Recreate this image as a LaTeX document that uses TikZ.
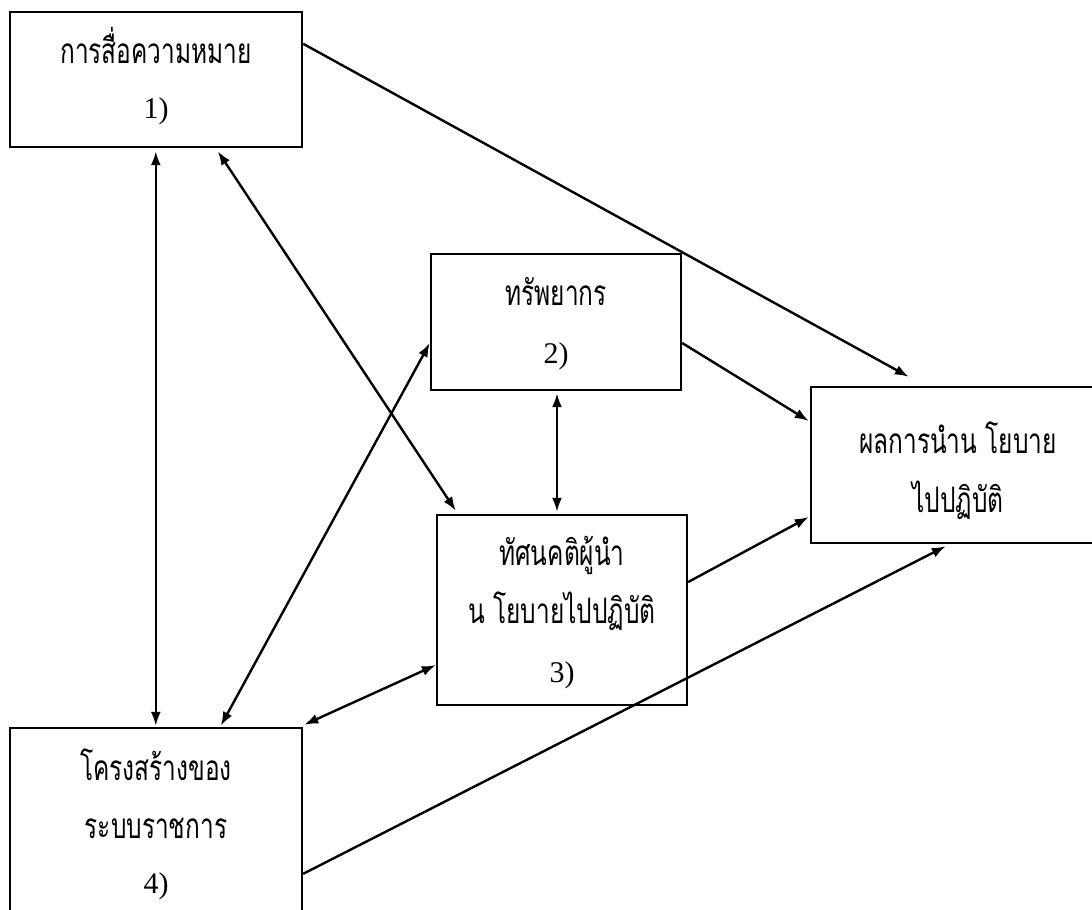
\documentclass[tikz,border=0pt]{standalone}
\usepackage{fontspec}
\setmainfont{Liberation Serif}
\newfontfamily\thai[Script=Thai]{Loma}
\usetikzlibrary{arrows.meta,calc}
% Thai lines are set tall and narrow
\newcommand{\tline}[1]{\scalebox{0.94}[1.35]{#1}}
\begin{document}
\begin{tikzpicture}[x=1pt,y=-1pt,
  box/.style={draw, line width=2.4pt, rectangle, inner sep=0pt},
  th/.style={anchor=base, inner sep=0pt, font=\thai\fontsize{26}{30}\selectfont},
  num/.style={anchor=base, inner sep=0pt, font=\fontsize{30}{32}\selectfont},
  tip/.style={-{Latex[length=14pt,width=10pt]}, line width=2.4pt},
  both/.style={{Latex[length=14pt,width=10pt]}-{Latex[length=14pt,width=10pt]}, line width=2.4pt}]
\useasboundingbox (0,0) rectangle (1092,910);
\clip (0,0) rectangle (1092,910);

% boxes
\node[box, minimum width=292pt, minimum height=135pt] (b1) at (156,79.5) {};
\node[box, minimum width=250pt, minimum height=136pt] (b2) at (556,322) {};
\node[box, minimum width=250pt, minimum height=190pt] (b3) at (562,610) {};
\node[box, minimum width=292pt, minimum height=222pt] (b4) at (156,839) {};
\node[box, minimum width=299pt, minimum height=156pt] (b5) at (960.5,465) {};

% labels
\node[th]  (t1a) at (156,63)  {\tline{การสื่อความหมาย}};
\node[num] (t1b) at (156,118) {1)};
\node[th]  (t2a) at (556,305) {\tline{ทรัพยากร}};
\node[num] (t2b) at (556,363) {2)};
\node[th]  (t3a) at (562,565) {\tline{ทัศนคติผู้นำ}};
\node[th]  (t3b) at (562,623) {\tline{น โยบายไปปฏิบัติ}};
\node[num] (t3c) at (562,682) {3)};
\node[th]  (t4a) at (156,780) {\tline{โครงสร้างของ}};
\node[th]  (t4b) at (156,838) {\tline{ระบบราชการ}};
\node[num] (t4c) at (156,893) {4)};
\node[th]  (t5a) at (958,453) {\tline{ผลการนำน โยบาย}};
\node[th]  (t5b) at (958,512) {\tline{ไปปฏิบัติ}};

% connectors
\draw[both] ([xshift=147pt,yshift=-3pt]b1.south west) -- ([xshift=147pt,yshift=1pt]b4.north west);
\draw[both] ([xshift=209pt,yshift=-3pt]b1.south west) -- ([xshift=20pt,yshift=3pt]b3.north west);
\draw[tip]  ([yshift=-33pt]b1.north east) -- ([xshift=99pt,yshift=9pt]b5.north west);
\draw[tip]  ([yshift=-21pt]b2.east) -- ([xshift=-1pt,yshift=44pt]b5.west);
\draw[both] ([xshift=1pt,yshift=-2pt]b2.south) -- ([xshift=-5pt,yshift=2pt]b3.north);
\draw[tip]  ([yshift=28pt]b3.east) -- ([xshift=-1pt,yshift=-52pt]b5.west);
\draw[both] ([xshift=212pt,yshift=1pt]b4.north west) -- ([yshift=-21pt]b2.west);
\draw[both] ([xshift=1pt,yshift=2pt]b4.north east) -- ([yshift=-55pt]b3.west);
\draw[tip]  ([yshift=-147pt]b4.north east) -- ([xshift=136pt,yshift=-2pt]b5.south west);
\end{tikzpicture}
\end{document}
